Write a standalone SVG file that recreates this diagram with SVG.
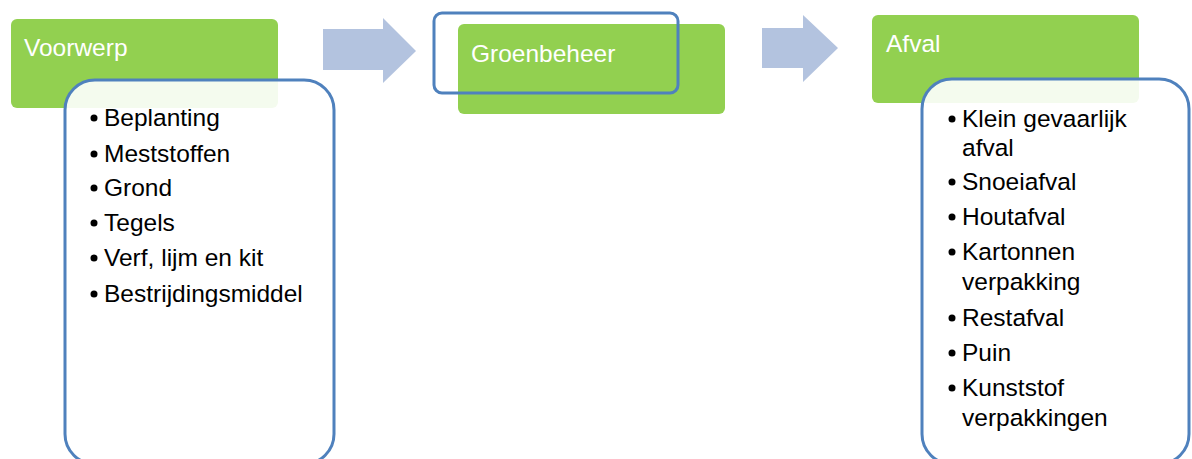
<svg xmlns="http://www.w3.org/2000/svg" width="1192" height="459" viewBox="0 0 1192 459">
<style>
.hdr{fill:#92D050}
.lst{fill:#ffffff;fill-opacity:0.9;stroke:#4F81BD;stroke-width:3}
.arr{fill:#B3C3DF}
.ht{font-family:"Liberation Sans",Arial,sans-serif;font-size:24.5px;fill:#ffffff}
.it{font-family:"Liberation Sans",Arial,sans-serif;font-size:24.5px;fill:#000000}
.dot{fill:#000000}
</style>
<rect width="1192" height="459" fill="#ffffff"/>
<g id="connectors">
<polygon class="arr" points="323,29 383,29 383,18 416,51 383,83 383,70 323,70"/>
<polygon class="arr" points="762,28 803,28 803,15 838,48 803,82 803,68 762,68"/>
</g>
<g id="voorwerp">
<rect class="hdr" x="11" y="19" width="267" height="89" rx="6"/>
<text class="ht" x="24" y="56">Voorwerp</text>
</g>
<g id="voorwerp-lijst">
<rect class="lst" x="65" y="80" width="269" height="384" rx="30"/>
<circle class="dot" cx="94" cy="118" r="3.5"/><text class="it" x="104" y="126">Beplanting</text>
<circle class="dot" cx="94" cy="154" r="3.5"/><text class="it" x="104" y="162">Meststoffen</text>
<circle class="dot" cx="94" cy="188" r="3.5"/><text class="it" x="104" y="196">Grond</text>
<circle class="dot" cx="94" cy="223" r="3.5"/><text class="it" x="104" y="231">Tegels</text>
<circle class="dot" cx="94" cy="258" r="3.5"/><text class="it" x="104" y="266">Verf, lijm en kit</text>
<circle class="dot" cx="94" cy="294" r="3.5"/><text class="it" x="104" y="302">Bestrijdingsmiddel</text>
</g>
<g id="groenbeheer">
<rect class="hdr" x="458" y="24" width="267" height="90" rx="6"/>
<rect x="434" y="13" width="244" height="80" rx="8" fill="none" stroke="#4F81BD" stroke-width="3"/>
<text class="ht" x="471" y="62">Groenbeheer</text>
</g>
<g id="afval">
<rect class="hdr" x="872" y="15" width="267" height="88" rx="6"/>
<text class="ht" x="886" y="52">Afval</text>
</g>
<g id="afval-lijst">
<rect class="lst" x="922" y="79" width="267" height="385" rx="30"/>
<circle class="dot" cx="952" cy="119" r="3.5"/><text class="it" x="962" y="127">Klein gevaarlijk</text>
<text class="it" x="962" y="156">afval</text>
<circle class="dot" cx="952" cy="182" r="3.5"/><text class="it" x="962" y="190">Snoeiafval</text>
<circle class="dot" cx="952" cy="217" r="3.5"/><text class="it" x="962" y="225">Houtafval</text>
<circle class="dot" cx="952" cy="252" r="3.5"/><text class="it" x="962" y="260">Kartonnen</text>
<text class="it" x="962" y="290">verpakking</text>
<circle class="dot" cx="952" cy="318" r="3.5"/><text class="it" x="962" y="326">Restafval</text>
<circle class="dot" cx="952" cy="353" r="3.5"/><text class="it" x="962" y="361">Puin</text>
<circle class="dot" cx="952" cy="388" r="3.5"/><text class="it" x="962" y="396">Kunststof</text>
<text class="it" x="962" y="426">verpakkingen</text>
</g>
</svg>
